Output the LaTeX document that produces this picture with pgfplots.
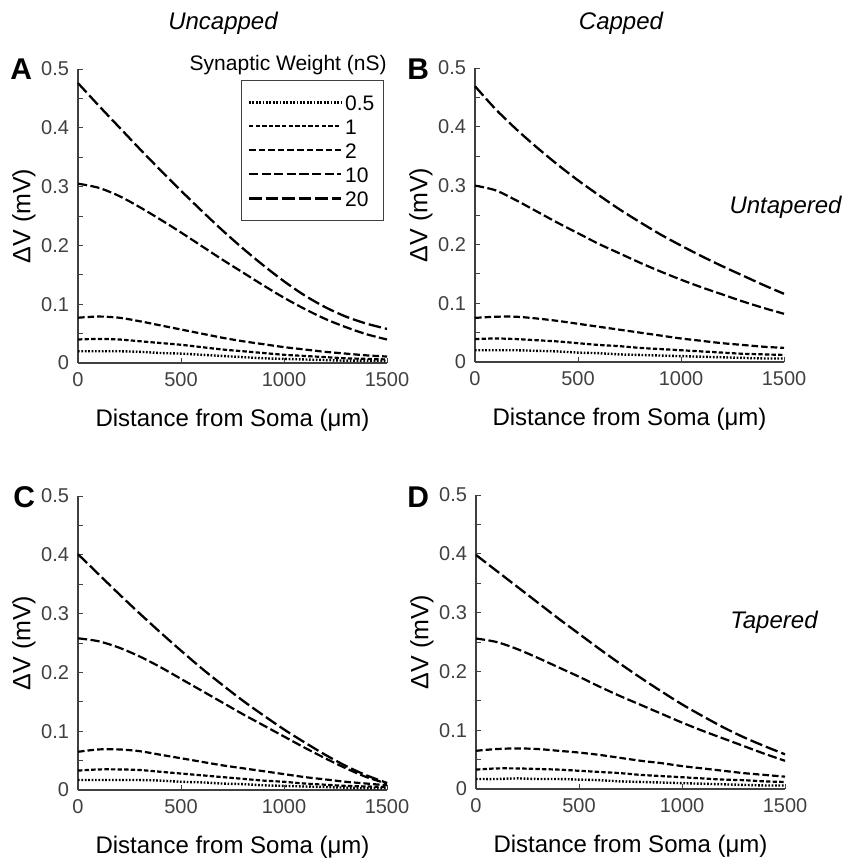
\documentclass[border=0pt]{standalone}
\usepackage{pgfplots}
\pgfplotsset{compat=1.18}
\usepackage{pgfplotstable}
\usepackage{fontspec}
\setmainfont{Liberation Sans}

\pgfplotstableread{
x    a05   a1    a2    a10   a20
0    0.020 0.040 0.077 0.305 0.476
100  0.020 0.041 0.079 0.298 0.438
200  0.020 0.040 0.077 0.284 0.401
300  0.019 0.037 0.071 0.265 0.364
400  0.017 0.034 0.064 0.244 0.328
500  0.016 0.031 0.057 0.222 0.293
600  0.014 0.027 0.050 0.199 0.259
700  0.012 0.023 0.043 0.176 0.226
800  0.010 0.020 0.037 0.154 0.195
900  0.008 0.017 0.032 0.132 0.166
1000 0.007 0.014 0.027 0.111 0.139
1100 0.006 0.012 0.023 0.092 0.115
1200 0.005 0.010 0.019 0.075 0.095
1300 0.004 0.008 0.016 0.061 0.079
1400 0.004 0.007 0.013 0.049 0.067
1500 0.003 0.006 0.011 0.040 0.058
}\tabA

\pgfplotstableread{
x    a05   a1    a2    a10   a20
0    0.020 0.039 0.075 0.300 0.469
100  0.020 0.040 0.077 0.292 0.430
200  0.020 0.039 0.077 0.275 0.396
300  0.019 0.037 0.074 0.256 0.365
400  0.018 0.035 0.070 0.237 0.336
500  0.016 0.032 0.065 0.219 0.309
600  0.015 0.029 0.060 0.201 0.284
700  0.013 0.027 0.055 0.185 0.260
800  0.012 0.024 0.050 0.169 0.238
900  0.011 0.022 0.045 0.154 0.217
1000 0.010 0.020 0.040 0.140 0.198
1100 0.009 0.018 0.036 0.127 0.180
1200 0.008 0.016 0.032 0.115 0.163
1300 0.007 0.014 0.029 0.103 0.147
1400 0.006 0.013 0.026 0.092 0.131
1500 0.006 0.012 0.024 0.082 0.116
}\tabB

\pgfplotstableread{
x    a05   a1    a2    a10   a20
0    0.017 0.033 0.065 0.258 0.401
100  0.017 0.035 0.069 0.253 0.367
200  0.017 0.035 0.069 0.242 0.333
300  0.017 0.034 0.066 0.227 0.300
400  0.016 0.031 0.060 0.209 0.268
500  0.014 0.028 0.054 0.189 0.237
600  0.013 0.025 0.048 0.169 0.207
700  0.011 0.022 0.042 0.149 0.179
800  0.010 0.019 0.037 0.129 0.152
900  0.008 0.016 0.032 0.110 0.127
1000 0.007 0.014 0.027 0.091 0.103
1100 0.006 0.011 0.022 0.072 0.081
1200 0.005 0.009 0.018 0.054 0.060
1300 0.004 0.007 0.014 0.037 0.041
1400 0.003 0.006 0.011 0.022 0.025
1500 0.003 0.005 0.008 0.011 0.012
}\tabC

\pgfplotstableread{
x    a05   a1    a2    a10   a20
0    0.017 0.033 0.065 0.256 0.398
100  0.017 0.035 0.068 0.250 0.371
200  0.018 0.035 0.069 0.238 0.344
300  0.017 0.034 0.068 0.223 0.317
400  0.017 0.033 0.065 0.207 0.290
500  0.016 0.031 0.062 0.191 0.264
600  0.015 0.029 0.058 0.174 0.238
700  0.013 0.027 0.053 0.158 0.213
800  0.012 0.024 0.048 0.143 0.189
900  0.011 0.022 0.044 0.128 0.166
1000 0.010 0.020 0.039 0.113 0.144
1100 0.009 0.018 0.035 0.099 0.124
1200 0.008 0.016 0.031 0.086 0.105
1300 0.007 0.015 0.027 0.073 0.088
1400 0.006 0.013 0.024 0.060 0.073
1500 0.006 0.012 0.021 0.048 0.059
}\tabD

\pgfplotsset{
  panel/.style={
    scale only axis, width=154.5pt, height=147pt,
    anchor=south west,
    xmin=0, xmax=1500, ymin=0, ymax=0.5,
    axis lines=left, axis line style={-, black!75, line width=0.6pt},
    tick align=inside, tick style={black!75, line width=0.5pt},
    major tick length=2.5pt, minor tick length=2.5pt,
    xtick={0,500,1000,1500}, xticklabels={0,500,1000,1500},
    ytick={0,0.1,0.2,0.3,0.4,0.5}, yticklabels={0,0.1,0.2,0.3,0.4,0.5},
    minor ytick={0.05,0.15,0.25,0.35,0.45},
    ticklabel style={font=\fontsize{10}{12}\selectfont, text=black!75},
    xticklabel style={yshift=-1pt},
    yticklabel style={xshift=-1pt},
    every axis y label/.style={at={(rel axis cs:0,0.5)}, xshift=-27pt, rotate=90, anchor=center, font=\fontsize{12.5}{14}\selectfont},
    every axis x label/.style={at={(rel axis cs:0.5,0)}, yshift=-23pt, anchor=north, inner sep=0pt, font=\fontsize{12}{14}\selectfont},
    xlabel={Distance from Soma (μm)},
    ylabel={ΔV (mV)},
    clip=false,
  },
  s05/.style={black, line width=1.2pt, dash pattern=on 0.85pt off 0.85pt},
  s1/.style={black, line width=1.1pt, dash pattern=on 2.2pt off 1.1pt},
  s2/.style={black, line width=1.1pt, dash pattern=on 3.3pt off 1.5pt},
  s10/.style={black, line width=1.1pt, dash pattern=on 4.6pt off 1.7pt},
  s20/.style={black, line width=1.15pt, dash pattern=on 6.3pt off 2pt},
}

\newcommand{\curves}[1]{%
  \addplot[s05, smooth] table[x=x, y=a05] {#1};
  \addplot[s1, smooth] table[x=x, y=a1] {#1};
  \addplot[s2, smooth] table[x=x, y=a2] {#1};
  \addplot[s10, smooth] table[x=x, y=a10] {#1};
  \addplot[s20, smooth] table[x=x, y=a20] {#1};
}

\begin{document}
\begin{tikzpicture}
\useasboundingbox (0,0) rectangle (421.5pt,-431pt);

% Panel A
\begin{axis}[panel, at={(39pt,-181.5pt)},
  legend style={at={(rel axis cs:0.99,0.963)}, anchor=north east,
    draw=black!75, line width=0.5pt, inner xsep=3pt, inner ysep=5pt,
    font=\fontsize{10.5}{12}\selectfont, row sep=0pt,
    nodes={text height=7.8pt, text depth=0pt, inner ysep=2.1pt, inner xsep=1.5pt},
    cells={anchor=west}},
  legend image code/.code={\draw[#1] (0pt,0pt) -- (46pt,0pt);},
]
\curves{\tabA}
\legend{0.5,1,2,10,20}
\node[anchor=base east, inner sep=0pt, font=\fontsize{10.5}{12}\selectfont] at (axis cs:1500,0.497) {Synaptic Weight (nS)};
\end{axis}

% Panel B
\begin{axis}[panel, at={(237.5pt,-181pt)}]
\curves{\tabB}
\end{axis}

% Panel C
\begin{axis}[panel, at={(39pt,-395pt)}]
\curves{\tabC}
\end{axis}

% Panel D
\begin{axis}[panel, at={(238pt,-394.5pt)}]
\curves{\tabD}
\end{axis}

% Titles and annotations
\node[anchor=base, inner sep=0pt, font=\itshape\fontsize{12}{14}\selectfont] at (111.5pt,-14.5pt) {Uncapped};
\node[anchor=base, inner sep=0pt, font=\itshape\fontsize{12}{14}\selectfont] at (310.5pt,-14.5pt) {Capped};
\node[anchor=base east, inner sep=0pt, font=\itshape\fontsize{12}{14}\selectfont] at (421pt,-106.5pt) {Untapered};
\node[anchor=base east, inner sep=0pt, font=\itshape\fontsize{12}{14}\selectfont] at (409pt,-314pt) {Tapered};

% Panel letters
\node[anchor=base west, inner sep=0pt, font=\bfseries\fontsize{15}{16}\selectfont] at (5pt,-39.7pt) {A};
\node[anchor=base west, inner sep=0pt, font=\bfseries\fontsize{15}{16}\selectfont] at (203.5pt,-39.7pt) {B};
\node[anchor=base west, inner sep=0pt, font=\bfseries\fontsize{15}{16}\selectfont] at (6.5pt,-253.5pt) {C};
\node[anchor=base west, inner sep=0pt, font=\bfseries\fontsize{15}{16}\selectfont] at (203.5pt,-253.5pt) {D};
\end{tikzpicture}
\end{document}
